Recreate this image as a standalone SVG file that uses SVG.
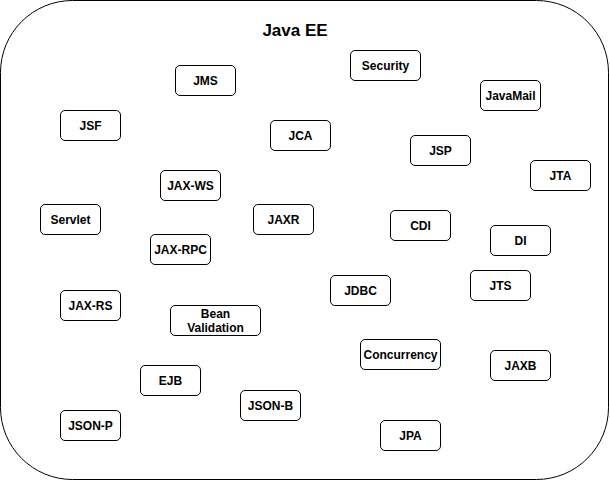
<svg xmlns="http://www.w3.org/2000/svg" width="610" height="481" viewBox="0 0 610 481">
<style>
.box{fill:#fff;stroke:#000;stroke-width:1}
.lbl{font-family:"Liberation Sans",Arial,Helvetica,sans-serif;font-size:12px;font-weight:bold;fill:#000;text-anchor:middle}
.title{font-family:"Liberation Sans",Arial,Helvetica,sans-serif;font-size:17px;font-weight:bold;fill:#000;text-anchor:middle}
</style>
<rect width="610" height="481" fill="#fff"/>
<g id="javaee">
<rect class="box" x="0.5" y="0.5" width="608" height="479" rx="72" ry="72"/>
<text class="title" x="295" y="36">Java EE</text>
</g>
<g id="jms"><rect class="box" x="175.5" y="65.5" width="60" height="30" rx="4.5"/><text class="lbl" x="205.5" y="85">JMS</text></g>
<g id="security"><rect class="box" x="350.5" y="50.5" width="70" height="30" rx="4.5"/><text class="lbl" x="385.5" y="70">Security</text></g>
<g id="javamail"><rect class="box" x="480.5" y="80.5" width="60" height="30" rx="4.5"/><text class="lbl" x="510.5" y="100">JavaMail</text></g>
<g id="jsf"><rect class="box" x="60.5" y="110.5" width="60" height="30" rx="4.5"/><text class="lbl" x="90.5" y="130">JSF</text></g>
<g id="jca"><rect class="box" x="270.5" y="120.5" width="60" height="30" rx="4.5"/><text class="lbl" x="300.5" y="140">JCA</text></g>
<g id="jsp"><rect class="box" x="410.5" y="135.5" width="60" height="30" rx="4.5"/><text class="lbl" x="440.5" y="155">JSP</text></g>
<g id="jta"><rect class="box" x="530.5" y="160.5" width="60" height="30" rx="4.5"/><text class="lbl" x="560.5" y="180">JTA</text></g>
<g id="jaxws"><rect class="box" x="160.5" y="170.5" width="60" height="30" rx="4.5"/><text class="lbl" x="190.5" y="190">JAX-WS</text></g>
<g id="servlet"><rect class="box" x="40.5" y="204.5" width="60" height="30" rx="4.5"/><text class="lbl" x="70.5" y="224">Servlet</text></g>
<g id="jaxr"><rect class="box" x="253.5" y="204.5" width="60" height="30" rx="4.5"/><text class="lbl" x="283.5" y="224">JAXR</text></g>
<g id="cdi"><rect class="box" x="390.5" y="210.5" width="60" height="30" rx="4.5"/><text class="lbl" x="420.5" y="230">CDI</text></g>
<g id="di"><rect class="box" x="490.5" y="225.5" width="60" height="30" rx="4.5"/><text class="lbl" x="520.5" y="245">DI</text></g>
<g id="jaxrpc"><rect class="box" x="150.5" y="234.5" width="60" height="30" rx="4.5"/><text class="lbl" x="180.5" y="254">JAX-RPC</text></g>
<g id="jts"><rect class="box" x="470.5" y="270.5" width="60" height="30" rx="4.5"/><text class="lbl" x="500.5" y="290">JTS</text></g>
<g id="jdbc"><rect class="box" x="330.5" y="275.5" width="60" height="30" rx="4.5"/><text class="lbl" x="360.5" y="295">JDBC</text></g>
<g id="jaxrs"><rect class="box" x="60.5" y="290.5" width="60" height="30" rx="4.5"/><text class="lbl" x="90.5" y="310">JAX-RS</text></g>
<g id="beanvalidation"><rect class="box" x="170.5" y="305.5" width="90" height="30" rx="4.5"/><text class="lbl" x="215.5" y="317.5">Bean</text><text class="lbl" x="215.5" y="331.5">Validation</text></g>
<g id="concurrency"><rect class="box" x="360.5" y="339.5" width="80" height="30" rx="4.5"/><text class="lbl" x="400.5" y="359">Concurrency</text></g>
<g id="jaxb"><rect class="box" x="490.5" y="350.5" width="60" height="30" rx="4.5"/><text class="lbl" x="520.5" y="370">JAXB</text></g>
<g id="ejb"><rect class="box" x="140.5" y="365.5" width="60" height="30" rx="4.5"/><text class="lbl" x="170.5" y="385">EJB</text></g>
<g id="jsonb"><rect class="box" x="240.5" y="390.5" width="60" height="30" rx="4.5"/><text class="lbl" x="270.5" y="410">JSON-B</text></g>
<g id="jsonp"><rect class="box" x="60.5" y="410.5" width="60" height="30" rx="4.5"/><text class="lbl" x="90.5" y="430">JSON-P</text></g>
<g id="jpa"><rect class="box" x="380.5" y="420.5" width="60" height="30" rx="4.5"/><text class="lbl" x="410.5" y="440">JPA</text></g>
</svg>
